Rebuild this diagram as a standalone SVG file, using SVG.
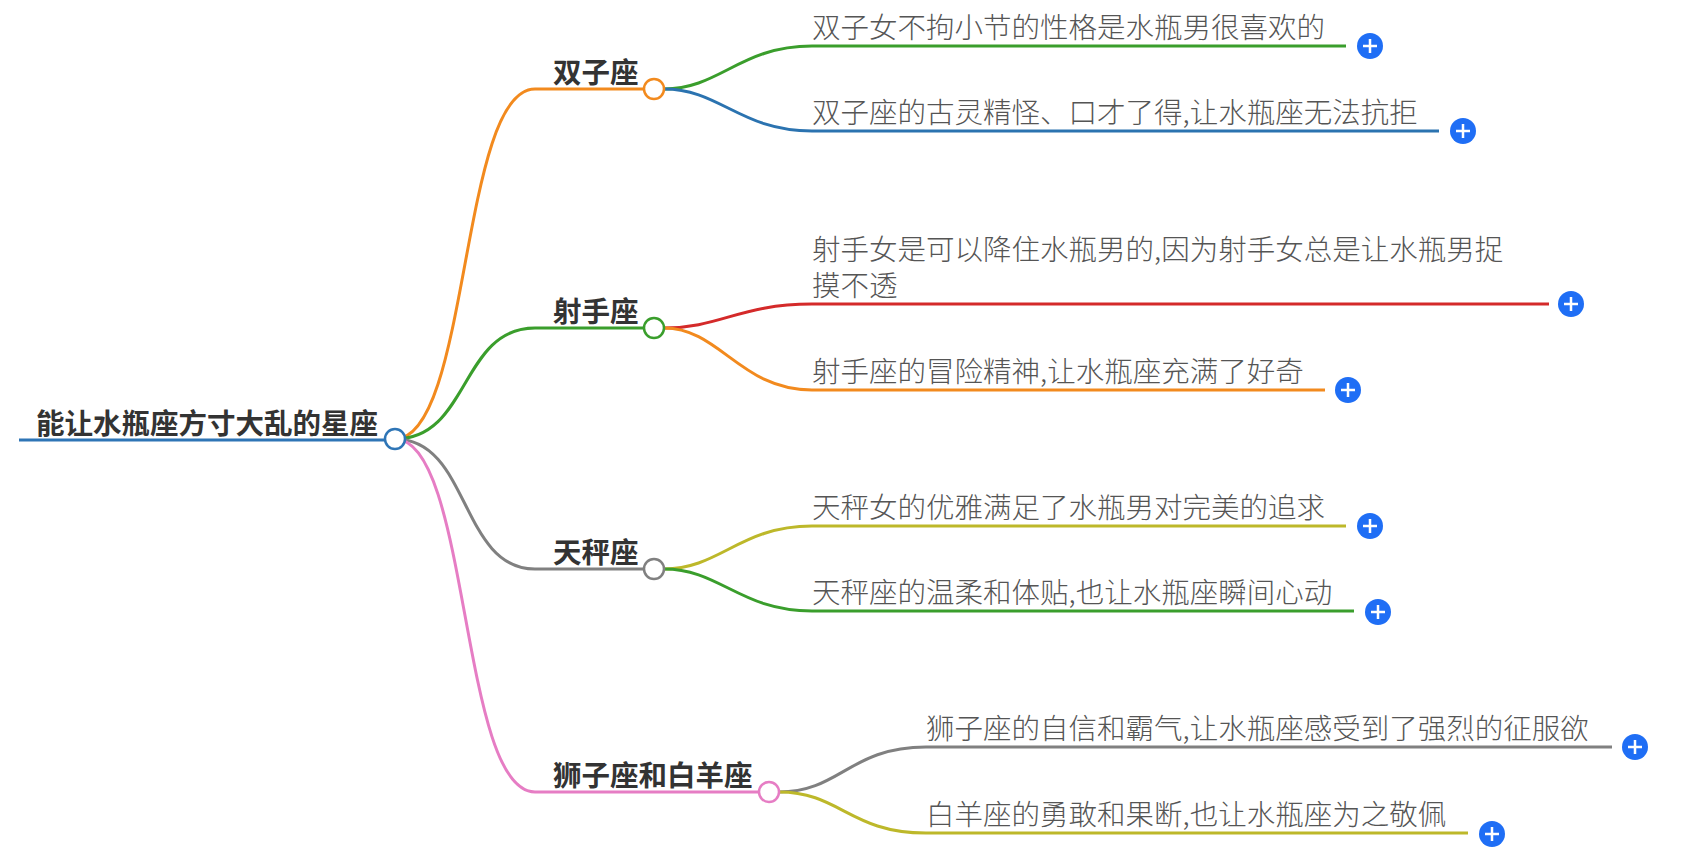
<svg xmlns="http://www.w3.org/2000/svg" width="1687" height="851" viewBox="0 0 1687 851">
<style>
.c{fill:none;stroke-width:3}
.t{font-family:"Noto Sans CJK SC","Noto Sans",sans-serif;font-size:28.5px;fill:#555;font-weight:300}
.b{font-family:"Noto Sans CJK SC","Noto Sans",sans-serif;font-size:28.5px;font-weight:bold;fill:#333}
.n{fill:#fff;stroke-width:2.5}
.p{fill:#1f6ef5}
.pl{stroke:#fff;stroke-width:2.5}
</style>
<rect width="1687" height="851" fill="#fff"/>
<g id="connectors">
<path class="c" d="M19 440H385" stroke="#2e75b6" stroke-width="6"/>
<path class="c" stroke="#f28a1e" d="M395 439C470 439 460 89 535 89H644"/>
<path class="c" stroke="#3a9e2c" d="M395 439C470 439 460 328 535 328H644"/>
<path class="c" stroke="#808080" d="M395 439C470 439 460 569 535 569H644"/>
<path class="c" stroke="#e67dc4" d="M395 439C470 439 460 792 535 792H759"/>
<path class="c" stroke="#3a9e2c" d="M664 89C720 89 740 46 812 46H1346"/>
<path class="c" stroke="#2b73b0" d="M664 89C720 89 740 131 812 131H1439"/>
<path class="c" stroke="#d42a2a" d="M664 328C720 328 740 304 812 304H1549"/>
<path class="c" stroke="#f28a1e" d="M664 328C720 328 740 390 812 390H1325"/>
<path class="c" stroke="#bdb82a" d="M664 569C720 569 740 526 812 526H1346"/>
<path class="c" stroke="#3a9e2c" d="M664 569C720 569 740 611 812 611H1354"/>
<path class="c" stroke="#808080" d="M779 792C840 792 850 747 926 747H1612"/>
<path class="c" stroke="#bdb82a" d="M779 792C840 792 850 833 926 833H1468"/>
</g>
<g id="root"><text class="b" x="36" y="434">能让水瓶座方寸大乱的星座</text><circle class="n" cx="395" cy="439" r="10" stroke="#2e75b6"/></g>
<g id="b1"><text class="b" x="553" y="83">双子座</text><circle class="n" cx="654" cy="89" r="10" stroke="#f28a1e"/></g>
<g id="b2"><text class="b" x="553" y="322">射手座</text><circle class="n" cx="654" cy="328" r="10" stroke="#3a9e2c"/></g>
<g id="b3"><text class="b" x="553" y="563">天秤座</text><circle class="n" cx="654" cy="569" r="10" stroke="#808080"/></g>
<g id="b4"><text class="b" x="553" y="786">狮子座和白羊座</text><circle class="n" cx="769" cy="792" r="10" stroke="#e67dc4"/></g>
<g id="l1"><text class="t" x="812" y="38">双子女不拘小节的性格是水瓶男很喜欢的</text><circle class="p" cx="1370" cy="46" r="13"/><path class="pl" d="M1363 46h14M1370 39v14"/></g>
<g id="l2"><text class="t" x="812" y="123">双子座的古灵精怪、口才了得,让水瓶座无法抗拒</text><circle class="p" cx="1463" cy="131" r="13"/><path class="pl" d="M1456 131h14M1463 124v14"/></g>
<g id="l3"><text class="t" x="812" y="260">射手女是可以降住水瓶男的,因为射手女总是让水瓶男捉</text><text class="t" x="812" y="296">摸不透</text><circle class="p" cx="1571" cy="304" r="13"/><path class="pl" d="M1564 304h14M1571 297v14"/></g>
<g id="l4"><text class="t" x="812" y="382">射手座的冒险精神,让水瓶座充满了好奇</text><circle class="p" cx="1348" cy="390" r="13"/><path class="pl" d="M1341 390h14M1348 383v14"/></g>
<g id="l5"><text class="t" x="812" y="518">天秤女的优雅满足了水瓶男对完美的追求</text><circle class="p" cx="1370" cy="526" r="13"/><path class="pl" d="M1363 526h14M1370 519v14"/></g>
<g id="l6"><text class="t" x="812" y="603">天秤座的温柔和体贴,也让水瓶座瞬间心动</text><circle class="p" cx="1378" cy="612" r="13"/><path class="pl" d="M1371 612h14M1378 605v14"/></g>
<g id="l7"><text class="t" x="926" y="739">狮子座的自信和霸气,让水瓶座感受到了强烈的征服欲</text><circle class="p" cx="1635" cy="747" r="13"/><path class="pl" d="M1628 747h14M1635 740v14"/></g>
<g id="l8"><text class="t" x="926" y="825">白羊座的勇敢和果断,也让水瓶座为之敬佩</text><circle class="p" cx="1492" cy="834" r="13"/><path class="pl" d="M1485 834h14M1492 827v14"/></g>
</svg>
